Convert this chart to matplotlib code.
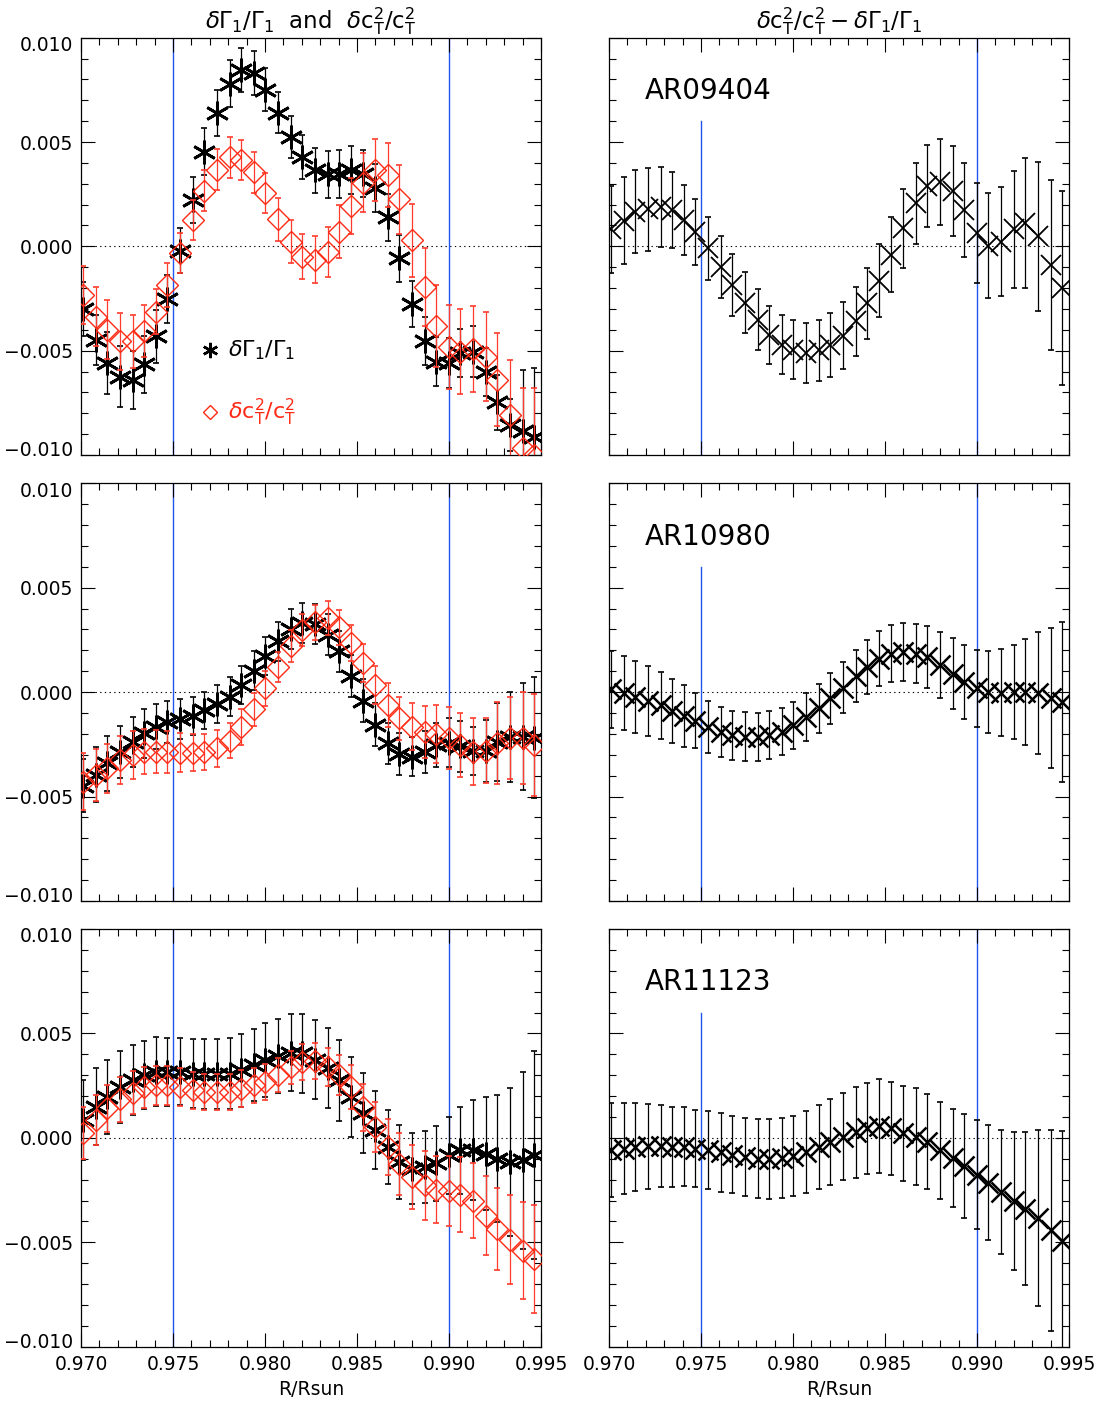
import numpy as np
import matplotlib
matplotlib.use("Agg")
import matplotlib.pyplot as plt
from matplotlib.transforms import ScaledTranslation

plt.rcParams['font.family'] = ['DejaVu Sans']
plt.rcParams['mathtext.fontset'] = 'dejavusans'

# radius grid (R/Rsun)
r = [0.9701, 0.9708, 0.9714, 0.9721, 0.9728, 0.9734, 0.9741, 0.9747, 0.9754, 0.9761,
     0.9767, 0.9774, 0.9781, 0.9787, 0.9794, 0.9800, 0.9807, 0.9814, 0.9820, 0.9827,
     0.9834, 0.9840, 0.9847, 0.9853, 0.9860, 0.9867, 0.9873, 0.9880, 0.9887, 0.9893,
     0.9900, 0.9906, 0.9913, 0.9920, 0.9926, 0.9933, 0.9940, 0.9946]

regions = ['AR09404', 'AR10980', 'AR11123']

# dGamma1/Gamma1 (units of 1e-3) and errors
gam_09404 = [-3.01, -4.48, -5.6, -6.24, -6.4, -5.65, -4.32, -2.52, -0.2, 2.22, 4.53, 6.4, 7.8,
             8.44, 8.31, 7.51, 6.41, 5.25, 4.29, 3.65, 3.46, 3.49, 3.65, 3.49, 2.78, 1.39,
             -0.57, -2.76, -4.56, -5.52, -5.57, -5.09, -5.04, -6.04, -7.48, -8.55, -8.87, -9.14]
gam_err_09404 = [1.3, 1.2, 1.5, 1.47, 1.38, 1.36, 1.28, 1.15, 1.09, 1.1, 1.13, 1.09, 1.12, 1.05,
                 1.07, 1.02, 1.0, 1.0, 1.04, 1.07, 1.12, 1.15, 1.15, 1.13, 1.15, 1.13, 1.12,
                 1.12, 1.15, 1.18, 1.2, 1.15, 1.2, 1.15, 1.3, 1.25, 2.95, 3.3]
gam_10980 = [-4.47, -3.95, -3.41, -2.87, -2.37, -1.97, -1.65, -1.44, -1.3, -1.13, -0.87, -0.58,
             -0.21, 0.35, 1.03, 1.74, 2.44, 3.01, 3.3, 3.25, 2.75, 1.95, 0.78, -0.4, -1.55,
             -2.45, -2.95, -3.09, -2.85, -2.53, -2.42, -2.6, -2.82, -2.82, -2.4, -2.13, -2.13, -2.18]
gam_err_10980 = [1.25, 1.32, 1.32, 1.24, 1.2, 1.16, 1.06, 1.0, 0.96, 0.92, 0.9, 0.92, 0.92, 0.92,
                 0.93, 0.92, 0.93, 0.96, 0.96, 0.96, 0.97, 1.0, 1.0, 1.05, 1.02, 0.97, 1.0, 0.94,
                 1.0, 1.04, 1.16, 1.2, 1.16, 1.48, 1.87, 2.15, 2.55, 2.9]
gam_11123 = [0.85, 1.49, 1.96, 2.43, 2.78, 3.0, 3.16, 3.16, 3.16, 3.08, 3.05, 3.05, 3.08, 3.24,
             3.48, 3.72, 3.91, 4.07, 4.04, 3.75, 3.33, 2.76, 1.96, 1.18, 0.37, -0.44, -1.16,
             -1.48, -1.4, -1.21, -0.83, -0.59, -0.59, -0.75, -0.99, -1.16, -1.08, -0.8]
gam_err_11123 = [1.9, 1.84, 1.78, 1.72, 1.68, 1.64, 1.65, 1.63, 1.61, 1.65, 1.68, 1.66, 1.7, 1.74,
                 1.73, 1.76, 1.77, 1.84, 1.87, 1.9, 1.92, 1.93, 1.92, 1.92, 1.87, 1.79, 1.76,
                 1.71, 1.71, 1.79, 1.85, 2.08, 2.4, 2.7, 3.05, 3.55, 4.25, 4.98]

# dc_T^2/c_T^2 (units of 1e-3) and errors
c2_09404 = [-2.33, -3.37, -4.0, -4.56, -4.56, -4.05, -3.13, -1.85, -0.33, 1.26, 2.66, 3.68, 4.26,
            4.13, 3.54, 2.54, 1.29, 0.22, -0.49, -0.65, -0.26, 0.7, 1.93, 3.05, 3.65, 3.41,
            2.25, 0.3, -1.96, -3.81, -4.83, -5.04, -4.93, -5.28, -6.4, -8.07, -9.67, -9.98]
c2_err_09404 = [1.4, 1.4, 1.42, 1.38, 1.29, 1.24, 1.08, 1.05, 0.97, 0.94, 0.98, 0.98, 1.0, 0.97,
                0.98, 0.96, 1.01, 1.02, 1.08, 1.13, 1.2, 1.28, 1.36, 1.42, 1.49, 1.52, 1.64,
                1.75, 1.87, 1.95, 2.02, 2.03, 2.07, 2.15, 2.23, 2.6, 2.9, 3.2]
c2_10980 = [-4.28, -3.96, -3.64, -3.24, -3.0, -2.85, -2.85, -2.85, -2.89, -2.89, -2.85, -2.69,
            -2.32, -1.68, -0.82, 0.19, 1.2, 2.22, 2.99, 3.35, 3.55, 3.11, 2.35, 1.39, 0.35,
            -0.61, -1.25, -1.65, -1.89, -2.0, -2.2, -2.53, -2.85, -2.8, -2.45, -2.2, -2.2, -2.53]
c2_err_10980 = [1.36, 1.24, 1.18, 1.16, 1.16, 1.09, 1.02, 1.0, 0.92, 0.88, 0.86, 0.88, 0.84, 0.86,
                0.8, 0.84, 0.72, 0.76, 0.76, 0.84, 0.8, 0.84, 0.88, 0.9, 0.92, 1.04, 1.04, 1.12,
                1.24, 1.4, 1.48, 1.52, 1.6, 1.56, 1.96, 1.96, 2.2, 2.44]
c2_11123 = [0.22, 0.85, 1.42, 1.85, 2.16, 2.42, 2.52, 2.52, 2.44, 2.28, 2.2, 2.2, 2.2, 2.36, 2.52,
            2.68, 3.0, 3.38, 3.64, 3.68, 3.39, 3.0, 2.43, 1.47, 0.52, -0.44, -1.24, -1.88,
            -2.27, -2.48, -2.56, -2.72, -3.0, -3.72, -4.36, -4.89, -5.4, -5.8]
c2_err_11123 = [1.25, 1.21, 1.12, 1.07, 1.02, 0.98, 0.94, 0.94, 0.91, 0.88, 0.88, 0.85, 0.85, 0.9,
                0.84, 0.86, 0.8, 0.8, 0.86, 0.88, 0.92, 0.96, 1.04, 1.12, 1.2, 1.32, 1.48, 1.52,
                1.64, 1.62, 1.68, 1.8, 1.8, 1.88, 1.97, 2.13, 2.32, 2.6]

# dc_T^2/c_T^2 - dGamma1/Gamma1 (units of 1e-3) and errors
diff_09404 = [0.81, 1.23, 1.66, 1.77, 1.9, 1.74, 1.26, 0.7, -0.1, -0.97, -1.85, -2.7, -3.52,
              -4.24, -4.72, -4.96, -5.09, -4.99, -4.72, -4.29, -3.6, -2.73, -1.66, -0.41, 0.86,
              2.06, 2.89, 3.09, 2.66, 1.74, 0.65, 0.03, 0.22, 0.81, 1.13, 0.49, -0.89, -2.0]
diff_err_09404 = [2.1, 2.07, 2.0, 1.97, 1.91, 1.81, 1.69, 1.58, 1.52, 1.49, 1.48, 1.47, 1.47, 1.4,
                  1.42, 1.42, 1.44, 1.48, 1.52, 1.6, 1.66, 1.7, 1.75, 1.8, 1.89, 1.93, 1.98,
                  2.05, 2.15, 2.27, 2.41, 2.51, 2.62, 2.82, 3.11, 3.57, 4.09, 4.63]
diff_10980 = [0.13, -0.03, -0.22, -0.42, -0.62, -0.89, -1.15, -1.37, -1.66, -1.9, -2.06, -2.14,
              -2.14, -2.06, -1.9, -1.58, -1.18, -0.78, -0.3, 0.22, 0.77, 1.21, 1.61, 1.85, 1.93,
              1.85, 1.69, 1.29, 0.89, 0.5, 0.18, 0.02, -0.03, 0.02, 0.02, -0.06, -0.3, -0.46]
diff_err_10980 = [1.84, 1.76, 1.73, 1.66, 1.6, 1.53, 1.49, 1.32, 1.24, 1.2, 1.17, 1.17, 1.16, 1.14,
                  1.12, 1.12, 1.16, 1.16, 1.23, 1.24, 1.26, 1.29, 1.31, 1.36, 1.38, 1.42, 1.5,
                  1.59, 1.68, 1.78, 1.85, 1.96, 2.08, 2.24, 2.53, 2.92, 3.35, 3.83]
diff_11123 = [-0.59, -0.51, -0.43, -0.4, -0.4, -0.43, -0.43, -0.51, -0.59, -0.7, -0.8, -0.91,
              -0.99, -1.02, -0.96, -0.86, -0.67, -0.43, -0.19, 0.05, 0.26, 0.45, 0.58, 0.45,
              0.21, 0.05, -0.19, -0.59, -0.96, -1.34, -1.76, -2.14, -2.59, -3.04, -3.39,
              -3.83, -4.42, -4.95]
diff_err_11123 = [2.26, 2.18, 2.12, 2.03, 1.96, 1.92, 1.89, 1.86, 1.88, 1.88, 1.85, 1.88, 1.9, 1.9,
                  1.92, 1.92, 1.96, 2.0, 2.06, 2.08, 2.16, 2.17, 2.26, 2.21, 2.26, 2.32, 2.27,
                  2.32, 2.34, 2.48, 2.6, 2.74, 2.98, 3.3, 3.67, 4.22, 4.81, 5.3]

gam = [gam_09404, gam_10980, gam_11123]
gam_err = [gam_err_09404, gam_err_10980, gam_err_11123]
c2 = [c2_09404, c2_10980, c2_11123]
c2_err = [c2_err_09404, c2_err_10980, c2_err_11123]
diff = [diff_09404, diff_10980, diff_11123]
diff_err = [diff_err_09404, diff_err_10980, diff_err_11123]

xticks = [0.970, 0.975, 0.980, 0.985, 0.990, 0.995]
yticks = [-0.010, -0.005, 0.0, 0.005, 0.010]
ytick_labels = ['\u22120.010', '\u22120.005', '0.000', '0.005', '0.010']
zone_edges = [0.975, 0.990]

BLUE = '#1f55f0'
RED = '#ff2a14'
RED_BAR = '#ff3b2b'
ASTER = (6, 2, 0)

GAM_LABEL = r'$\delta\Gamma_1/\Gamma_1$'
C2_LABEL = r'$\delta \mathrm{c}_\mathrm{T}^2/\mathrm{c}_\mathrm{T}^2$'
DIFF_LABEL = r'$\delta \mathrm{c}_\mathrm{T}^2/\mathrm{c}_\mathrm{T}^2 - \delta\Gamma_1/\Gamma_1$'

fig = plt.figure(figsize=(11, 14.06), dpi=100)

W = 1100.0
H = 1406.0
rows_px = [(37.7, 455.0), (483.3, 901.0), (929.0, 1346.7)]
cols_px = [(81.0, 541.0), (609.0, 1069.0)]


def setup(ax, bottom, left):
    ax.set_xlim(0.970, 0.995)
    ax.set_ylim(-0.010, 0.010)
    ax.set_xticks(xticks)
    ax.set_xticks(np.arange(0.970, 0.9951, 0.001), minor=True)
    ax.set_yticks(yticks)
    ax.set_yticks(np.arange(-0.010, 0.01001, 0.001), minor=True)
    ax.set_yticklabels(ytick_labels)
    ax.set_xticklabels(['%.3f' % t for t in xticks])
    ax.tick_params(which='both', direction='in', top=True, right=True,
                   width=0.8, labelsize=13.5, pad=6)
    ax.tick_params(which='major', length=10)
    ax.tick_params(which='minor', length=5)
    ax.tick_params(labelbottom=bottom, labelleft=left)
    # end labels sit a little inside the axis range
    ticks = ax.yaxis.get_major_ticks()
    ticks[0].label1.set_transform(ticks[0].label1.get_transform() +
                                  ScaledTranslation(0, 6 / 100, fig.dpi_scale_trans))
    ticks[-1].label1.set_transform(ticks[-1].label1.get_transform() +
                                   ScaledTranslation(0, -6 / 100, fig.dpi_scale_trans))
    for s in ax.spines.values():
        s.set_linewidth(0.9)
    ax.axhline(0.0, color='black', lw=0.8, ls=(0, (1.2, 3.0)), zorder=1)
    if bottom:
        ax.set_xlabel('R/Rsun', fontsize=13.5, labelpad=4)


for k in range(3):
    y0, y1 = rows_px[k]
    bottom = k == 2
    # left column: both perturbations
    x0, x1 = cols_px[0]
    axl = fig.add_axes([x0 / W, 1 - y1 / H, (x1 - x0) / W, (y1 - y0) / H])
    setup(axl, bottom, True)
    for e in zone_edges:
        axl.axvline(e, color=BLUE, lw=1.0, zorder=1)
    g = np.array(gam[k]) * 1e-3
    ge = np.array(gam_err[k]) * 1e-3
    c = np.array(c2[k]) * 1e-3
    ce = np.array(c2_err[k]) * 1e-3
    axl.errorbar(r, g, yerr=ge, fmt='none', ecolor='black', elinewidth=0.9,
                 capsize=2.2, capthick=1.2, zorder=2)
    axl.plot(r, g, ls='none', marker=ASTER, ms=17, mew=2.0, color='black', zorder=3)
    axl.errorbar(r, c, yerr=ce, fmt='none', ecolor=RED_BAR, elinewidth=0.9,
                 capsize=2.2, capthick=1.2, zorder=4)
    axl.plot(r, c, ls='none', marker='D', ms=11.5, mew=1.0, mfc='none', mec=RED, zorder=5)

    # right column: difference
    x0, x1 = cols_px[1]
    axr = fig.add_axes([x0 / W, 1 - y1 / H, (x1 - x0) / W, (y1 - y0) / H])
    setup(axr, bottom, False)
    axr.axvline(zone_edges[0], ymin=0.0, ymax=0.8, color=BLUE, lw=1.0, zorder=1)
    axr.axvline(zone_edges[1], color=BLUE, lw=1.0, zorder=1)
    d = np.array(diff[k]) * 1e-3
    de = np.array(diff_err[k]) * 1e-3
    axr.errorbar(r, d, yerr=de, fmt='none', ecolor='black', elinewidth=0.9,
                 capsize=2.2, capthick=1.2, zorder=2)
    axr.plot(r, d, ls='none', marker='x', ms=15, mew=1.3 if k == 0 else 1.8,
             color='black', zorder=3)
    axr.text(0.078, 0.872, regions[k], transform=axr.transAxes, fontsize=20,
             va='center', ha='left')

    if k == 0:
        axl.set_title(GAM_LABEL + '  and  ' + C2_LABEL, fontsize=16.5, pad=7)
        axr.set_title(DIFF_LABEL, fontsize=16.5, pad=7)
        # in-panel key
        axl.plot([0.28], [0.2516], transform=axl.transAxes, marker=ASTER, ms=11,
                 mew=1.8, color='black', ls='none', clip_on=False)
        axl.text(0.32, 0.2516, GAM_LABEL, transform=axl.transAxes,
                 fontsize=16, va='center', ha='left')
        axl.plot([0.28], [0.103], transform=axl.transAxes, marker='D', ms=7.5,
                 mew=1.0, mfc='none', mec=RED, ls='none', clip_on=False)
        axl.text(0.32, 0.103, C2_LABEL, transform=axl.transAxes,
                 fontsize=16, va='center', ha='left', color=RED)

fig.savefig('out.png', dpi=100)
